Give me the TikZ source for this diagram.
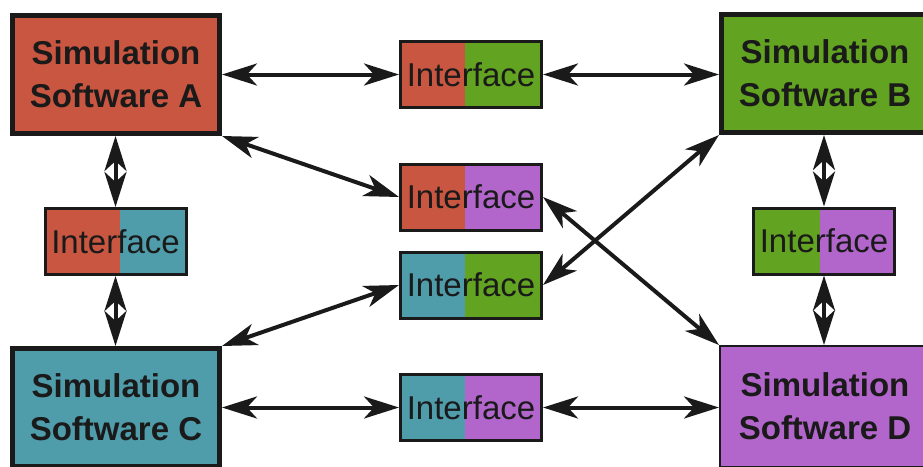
\documentclass[tikz,border=0pt]{standalone}
\usepackage{fontspec}
\setmainfont{Liberation Sans}
\usetikzlibrary{arrows.meta,calc}
\definecolor{cred}{RGB}{200,86,64}
\definecolor{cgreen}{RGB}{98,163,33}
\definecolor{cteal}{RGB}{79,157,171}
\definecolor{cpurple}{RGB}{178,102,204}
\definecolor{ink}{RGB}{26,26,26}
\tikzset{
  simbox/.style={draw=ink, fill=#1, line width=5pt, minimum width=207pt, minimum height=118pt,
    inner sep=0pt, align=center, text=ink, font=\fontsize{33}{43}\selectfont\bfseries},
  iface/.style n args={3}{draw=ink, line width=3pt, minimum width=141pt, minimum height=66pt,
    inner sep=0pt, text=ink, font=\fontsize{33}{40}\selectfont,
    path picture={
      \fill[#1] (path picture bounding box.south west) rectangle
        ($(path picture bounding box.north west)!#3!(path picture bounding box.north east)$);
      \fill[#2] ($(path picture bounding box.south west)!#3!(path picture bounding box.south east)$)
        rectangle (path picture bounding box.north east);
    }},
  biarrow/.style={draw=ink, line width=4pt,
    {Stealth[length=35pt,width=22pt,inset=10pt]}-{Stealth[length=35pt,width=22pt,inset=10pt]}},
}
\begin{document}
\begin{tikzpicture}[x=1pt,y=-1pt]
\useasboundingbox (0,0) rectangle (923,466);
\clip (0,0) rectangle (923,466);
\node[simbox=cred, text depth=-3pt] (A) at (116,74.5) {Simulation\\Software A};
\node[simbox=cgreen] (B) at (825,73.5) {Simulation\\Software B};
\node[simbox=cteal] (C) at (116,407.5) {Simulation\\Software C};
\node[simbox=cpurple, line width=2pt, minimum width=210pt, minimum height=121pt] (D) at (825,406.5) {Simulation\\Software D};
\node[iface={cred}{cgreen}{0.46}] (IAB) at (471,74.5) {Interface};
\node[iface={cred}{cpurple}{0.46}] (IAD) at (471,197) {Interface};
\node[iface={cteal}{cgreen}{0.46}] (ICB) at (471,285) {Interface};
\node[iface={cteal}{cpurple}{0.46}] (ICD) at (471,407.5) {Interface};
\node[iface={cred}{cteal}{0.53}] (IAC) at (115.5,241.5) {Interface};
\node[iface={cgreen}{cpurple}{0.47}] (IBD) at (824,241) {Interface};
\draw[biarrow] (A.east |- IAB.west) -- (IAB.west);
\draw[biarrow] (IAB.east) -- (B.west |- IAB.east);
\draw[biarrow] (A.south east) -- (IAD.west);
\draw[biarrow] (IAD.east) -- (D.north west);
\draw[biarrow] (ICB.east) -- (B.south west);
\draw[biarrow] (C.north east) -- (ICB.west);
\draw[biarrow] (C.east |- ICD.west) -- (ICD.west);
\draw[biarrow] (ICD.east) -- (D.west |- ICD.east);
\draw[biarrow] (A.south -| IAC.north) -- (IAC.north);
\draw[biarrow] (IAC.south) -- (C.north -| IAC.south);
\draw[biarrow] (B.south -| IBD.north) -- (IBD.north);
\draw[biarrow] (IBD.south) -- (D.north -| IBD.south);
\end{tikzpicture}
\end{document}
